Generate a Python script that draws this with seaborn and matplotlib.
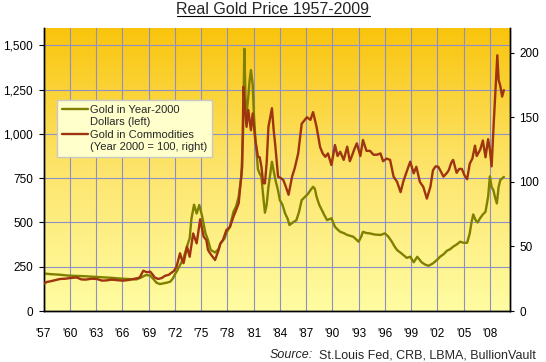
import numpy as np
import matplotlib
matplotlib.use("Agg")
import matplotlib.pyplot as plt
import seaborn as sns
from matplotlib.colors import LinearSegmentedColormap
from matplotlib.legend_handler import HandlerLine2D
from matplotlib.lines import Line2D

# gold price in year-2000 dollars (left axis)
gold_years = [1957.0, 1957.8, 1958.8, 1959.8, 1960.8, 1961.8, 1962.8, 1963.8, 1964.8, 1965.8,
              1966.8, 1967.6, 1968.2, 1968.7, 1969.2, 1969.6, 1969.9, 1970.3, 1970.7, 1971.1,
              1971.5, 1971.8, 1972.0, 1972.3, 1972.6, 1973.0, 1973.4, 1973.7, 1973.9, 1974.2,
              1974.5, 1974.8, 1975.1, 1975.5, 1975.8, 1976.1, 1976.6, 1977.0, 1977.2, 1977.7,
              1977.9, 1978.3, 1978.7, 1979.0, 1979.3, 1979.6, 1979.8, 1979.95, 1980.1, 1980.2,
              1980.4, 1980.55, 1980.7, 1980.9, 1981.05, 1981.2, 1981.5, 1981.7, 1981.9, 1982.1,
              1982.3, 1982.5, 1982.7, 1983.1, 1983.3, 1983.5, 1983.8, 1984.0, 1984.3, 1984.6,
              1984.9, 1985.1, 1985.5, 1985.9, 1986.2, 1986.5, 1986.9, 1987.2, 1987.5, 1987.8,
              1988.0, 1988.2, 1988.5, 1988.8, 1989.1, 1989.4, 1989.9, 1990.3, 1990.6, 1990.9,
              1991.3, 1991.7, 1992.0, 1992.4, 1992.7, 1993.0, 1993.3, 1993.5, 1993.9, 1994.3,
              1994.8, 1995.5, 1996.0, 1996.4, 1996.8, 1997.1, 1997.4, 1997.9, 1998.5, 1998.9,
              1999.3, 1999.7, 2000.2, 2000.6, 2001.0, 2001.5, 2002.0, 2002.3, 2002.7, 2003.1,
              2003.5, 2003.8, 2004.2, 2004.6, 2005.0, 2005.4, 2005.7, 2005.9, 2006.1, 2006.4,
              2006.6, 2006.9, 2007.2, 2007.5, 2007.8, 2008.0, 2008.2, 2008.4, 2008.6, 2008.8,
              2009.0, 2009.2, 2009.4, 2009.6]
gold_usd = [212, 208, 205, 200, 198, 196, 193, 190, 187, 183,
            180, 178, 190, 203, 200, 178, 160, 152, 156, 160,
            166, 185, 205, 230, 259, 300, 365, 410, 520, 600,
            550, 598, 540, 440, 400, 345, 330, 350, 380, 410,
            440, 476, 560, 590, 645, 760, 1000, 1480, 1150, 1110,
            1210, 1300, 1360, 1280, 1100, 980, 800, 775, 757, 650,
            555, 600, 700, 842, 790, 739, 680, 626, 600, 551,
            520, 485, 500, 513, 560, 626, 645, 660, 682, 701,
            690, 645, 600, 570, 540, 513, 523, 475, 460, 447,
            440, 429, 425, 419, 405, 391, 420, 447, 440, 438,
            432, 429, 438, 420, 391, 365, 344, 325, 300, 306,
            275, 306, 275, 262, 255, 269, 290, 306, 320, 340,
            350, 363, 375, 391, 385, 385, 438, 500, 545, 510,
            500, 525, 545, 560, 645, 760, 700, 682, 640, 607,
            700, 740, 748, 757]

# gold priced in commodities, year 2000 = 100 (right axis)
comm_years = [1957.0, 1957.4, 1957.8, 1958.4, 1958.9, 1959.5, 1960.0, 1960.8, 1961.3, 1961.8,
              1962.5, 1963.1, 1963.7, 1964.2, 1964.8, 1965.5, 1966.1, 1966.7, 1967.3, 1967.8,
              1968.0, 1968.4, 1968.8, 1969.2, 1969.5, 1969.7, 1970.1, 1970.5, 1970.9, 1971.3,
              1971.5, 1971.9, 1972.2, 1972.6, 1972.8, 1973.0, 1973.4, 1973.7, 1974.1, 1974.5,
              1974.9, 1975.3, 1975.6, 1975.8, 1976.1, 1976.6, 1977.0, 1977.2, 1977.5, 1977.9,
              1978.3, 1978.7, 1979.0, 1979.3, 1979.7, 1979.85, 1980.0, 1980.2, 1980.4, 1980.7,
              1980.9, 1981.2, 1981.5, 1981.7, 1981.9, 1982.1, 1982.3, 1982.5, 1982.7, 1983.1,
              1983.3, 1983.5, 1983.8, 1984.1, 1984.4, 1984.7, 1985.0, 1985.4, 1985.7, 1986.1,
              1986.5, 1987.1, 1987.5, 1987.8, 1988.2, 1988.6, 1988.9, 1989.2, 1989.5, 1989.9,
              1990.3, 1990.6, 1990.9, 1991.3, 1991.7, 1992.0, 1992.2, 1992.5, 1992.8, 1993.2,
              1993.5, 1993.9, 1994.3, 1994.7, 1995.1, 1995.5, 1995.8, 1996.2, 1996.6, 1997.0,
              1997.4, 1997.8, 1998.1, 1998.5, 1998.9, 1999.3, 1999.6, 2000.0, 2000.4, 2000.8,
              2001.2, 2001.5, 2001.8, 2002.1, 2002.4, 2002.7, 2003.1, 2003.3, 2003.6, 2003.8,
              2004.2, 2004.5, 2004.8, 2005.1, 2005.4, 2005.7, 2006.0, 2006.3, 2006.5, 2006.9,
              2007.2, 2007.5, 2007.8, 2008.0, 2008.2, 2008.4, 2008.6, 2008.85, 2009.0, 2009.2,
              2009.4, 2009.6]
comm_index = [21, 22.5, 23, 24, 24.8, 25, 25.5, 26, 24.5, 24.3,
              25, 24.8, 23.5, 23.7, 24.3, 23.8, 23.5, 24, 24.8, 25.5,
              26, 31.2, 30, 30.4, 28, 26, 24.8, 25.5, 27.3, 28,
              29, 31, 34.3, 44.7, 40, 37, 49.8, 42, 60, 52.4,
              71, 57.5, 55, 47.2, 44, 39.5, 47, 52, 55, 62.7,
              65, 73, 78, 83.4, 111.7, 173.6, 158, 142.6, 155.6, 140,
              153, 132.4, 119.4, 119, 111.7, 99, 98.8, 115, 142.6, 157,
              140, 127, 104, 103, 101.4, 96, 90, 104, 110.5, 122,
              145, 150, 148, 154, 142.6, 127, 122, 119.4, 122, 113,
              128.5, 120, 123.3, 117, 127.2, 116, 119.4, 125, 129.8, 120,
              132.4, 124, 124, 121, 121, 122, 116, 118, 117, 104,
              100, 92, 100, 108, 115.6, 106.6, 111.7, 100, 96, 87,
              96, 109, 112, 111.7, 108, 104, 107, 109, 115, 117,
              107, 110, 110, 105, 102, 114, 118, 128, 120, 125,
              132, 119, 133, 125, 112, 140, 166, 198, 179, 174,
              166, 171]

year_ticks = list(range(1957, 2009, 3))
left_ticks = [0, 250, 500, 750, 1000, 1250, 1500]
right_ticks = [0, 50, 100, 150, 200]

OLIVE = "#808000"
RUST = "#9E3410"
W, H = 546, 362


class FirstLineHandler(HandlerLine2D):
    # put the legend line next to the first text line
    def create_artists(self, legend, orig_handle, xdescent, ydescent, width,
                       height, fontsize, trans):
        arts = super().create_artists(legend, orig_handle, xdescent, ydescent,
                                      width, height, fontsize, trans)
        for a in arts:
            a.set_ydata(np.asarray(a.get_ydata()) + 0.6 * fontsize)
        return arts


sns.set_style("white")
plt.rcParams['font.family'] = ['Liberation Sans', 'DejaVu Sans']

fig = plt.figure(figsize=(W / 100, H / 100), dpi=100)
ax = fig.add_axes([43.5 / W, 51 / H, (510 - 43.5) / W, (311 - 27.5) / H])

x0, x1 = 1957, 2010.3
cmap = LinearSegmentedColormap.from_list("bg", ["#FFFCA2", "#FDE56C", "#F9C40C"])
ax.imshow(np.linspace(0, 1, 256).reshape(-1, 1), cmap=cmap, aspect="auto",
          origin="lower", extent=[x0, x1, 0, 1600], zorder=0)

sns.lineplot(x=gold_years, y=gold_usd, ax=ax, color=OLIVE, linewidth=1.7,
             legend=False, zorder=3)
ax2 = ax.twinx()
sns.lineplot(x=comm_years, y=comm_index, ax=ax2, color=RUST, linewidth=1.7,
             legend=False, zorder=3)

ax.set_xlim(x0, x1)
ax.set_ylim(0, 1600)
ax2.set_ylim(0, 219.5)

ax.set_xticks(year_ticks)
ax.set_xticklabels(["'%02d" % (y % 100) for y in year_ticks])
ax.set_yticks(left_ticks)
ax.set_yticklabels([f"{v:,}" for v in left_ticks])
ax2.set_yticks(right_ticks)
ax.set_xlabel("")
ax.set_ylabel("")
ax2.set_ylabel("")

ax.set_axisbelow(True)
ax.grid(True, color="#8F8FC8", linewidth=0.8)
ax2.grid(False)

for a in (ax, ax2):
    a.spines["top"].set_visible(False)
    for s in ("left", "right", "bottom"):
        a.spines[s].set_color("black")
        a.spines[s].set_linewidth(1.0)

ax.tick_params(axis="x", length=0, pad=12, labelsize=8.5, colors="black")
ax.tick_params(axis="y", left=True, direction="out", length=3.6, width=0.8,
               pad=4, labelsize=8.5, colors="black")
ax2.tick_params(axis="y", right=True, direction="out", length=3.2, width=0.8,
                pad=3.6, labelsize=8.5, colors="black")

handles = [Line2D([], [], color=OLIVE, linewidth=1.7),
           Line2D([], [], color=RUST, linewidth=1.7)]
labels = ["Gold in Year-2000\nDollars (left)",
          "Gold in Commodities\n(Year 2000 = 100, right)"]
leg = ax2.legend(handles, labels, loc="upper left",
                 bbox_to_anchor=(56.7 / W, 1 - 100 / H), bbox_transform=fig.transFigure,
                 borderaxespad=0, fontsize=8, frameon=True, fancybox=False,
                 framealpha=1, facecolor="#FFFFCC", edgecolor="#C8C8C8",
                 handlelength=2.4, handletextpad=0.15, labelspacing=0.3,
                 borderpad=0.45,
                 handler_map={Line2D: FirstLineHandler()})
leg.get_frame().set_linewidth(1.0)

title = fig.text(0.5, 1 - 14 / H, "Real Gold Price 1957-2009", ha="center",
                 va="baseline", fontsize=11.5)
src = fig.text(535.5 / W, 1 - 358 / H, "St.Louis Fed, CRB, LBMA, BullionVault",
               ha="right", va="baseline", fontsize=9)

fig.canvas.draw()
r = fig.canvas.get_renderer()
bb = title.get_window_extent(r)
fig.add_artist(Line2D([bb.x0 / W, bb.x1 / W], [1 - 16 / H, 1 - 16 / H],
                      transform=fig.transFigure, color="black", linewidth=0.8))
sb = src.get_window_extent(r)
fig.text((sb.x0 - 6) / W, 1 - 358 / H, "Source:", ha="right", va="baseline",
         fontsize=9, style="italic")

fig.savefig("out.png", dpi=100)
